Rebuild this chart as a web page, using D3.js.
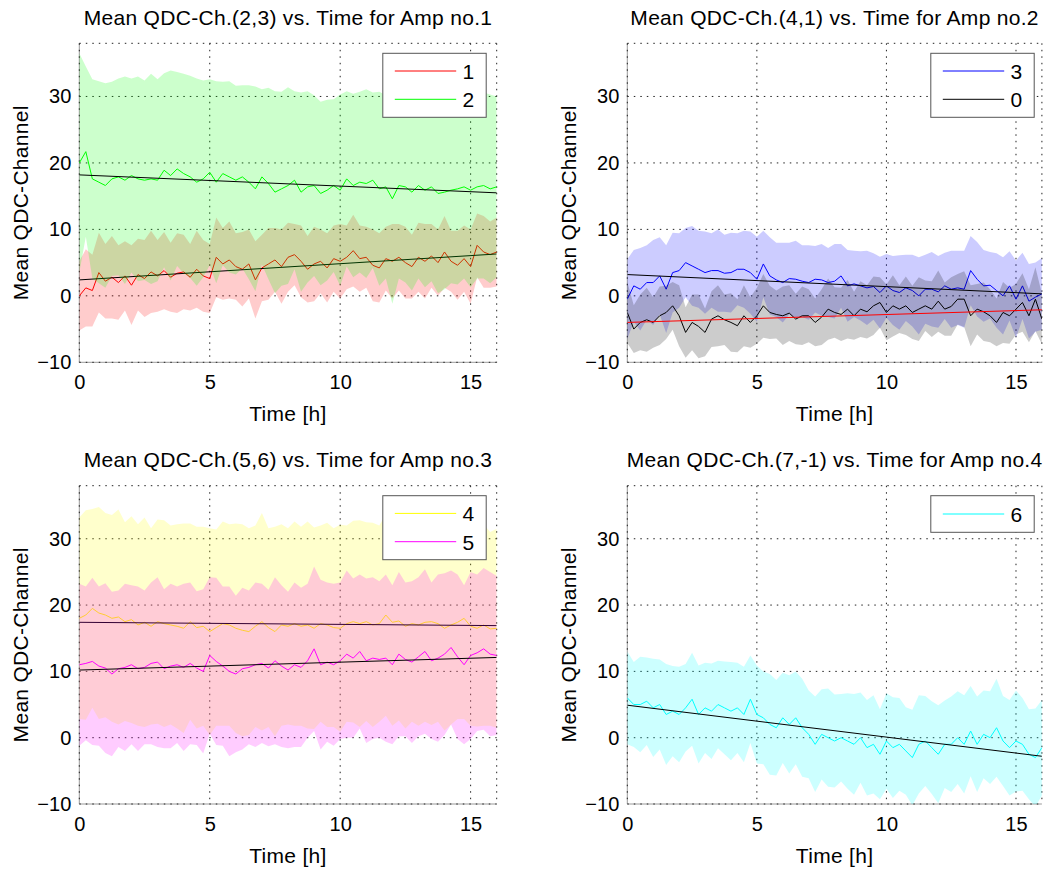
<!DOCTYPE html>
<html>
<head>
<meta charset="utf-8">
<script src="https://cdn.jsdelivr.net/npm/d3@7"></script>
<style>
body { margin: 0; background: #fff; }
svg text { font-family: "Liberation Sans", Helvetica, Arial, sans-serif; fill: #000; }
</style>
</head>
<body>
<script>
(function(){

//time bins are 0.25 h wide, first bin at t = 0
var timeStep = 0.25;

//axis ticks shared by all four panels
var xTicks = [0, 5, 10, 15];
var yTicks = [-10, 0, 10, 20, 30];
var xDomain = [0, 16],
    yDomain = [-10, 38];

//mean QDC channel per time bin (ch. 1 .. 6 and 0)
var meanCh1 = [0.0, 1.2, 0.8, 3.5, 2.2, 2.8, 2.0, 3.0, 1.6, 3.2, 2.6, 3.6, 3.0,
    3.8, 2.8, 3.4, 3.6, 2.8, 4.0, 3.0, 2.6, 5.8, 4.8, 5.4, 4.4, 4.0,
    4.8, 2.4, 4.2, 4.8, 5.4, 4.4, 5.8, 6.2, 5.2, 4.0, 4.8, 5.2, 4.2,
    5.6, 5.2, 5.8, 6.8, 5.6, 5.8, 4.6, 4.2, 5.6, 5.2, 5.8, 5.0, 4.4,
    5.8, 5.2, 6.0, 5.0, 6.6, 5.2, 4.6, 5.6, 4.4, 7.6, 6.6, 6.2, 6.6];
var sdCh1 = [5.2, 5.8, 5.4, 6.0, 5.6, 6.2, 5.6, 5.2, 6.0, 5.4, 5.8, 6.2, 5.4,
    5.8, 5.2, 6.0, 5.6, 5.0, 5.8, 5.4, 5.2, 6.0, 5.4, 5.8, 5.0, 5.6,
    5.2, 5.8, 5.0, 5.4, 4.8, 5.6, 5.2, 4.6, 5.4, 5.0, 5.6, 4.8, 5.2,
    5.0, 5.6, 4.8, 5.4, 5.0, 4.6, 5.4, 5.2, 4.8, 5.6, 5.0, 5.4, 4.8,
    5.2, 5.6, 4.8, 5.0, 5.4, 4.6, 5.2, 5.0, 5.6, 4.8, 5.4, 5.0, 5.2];

var meanCh2 = [20.0, 21.7, 17.6, 17.1, 16.6, 17.6, 17.9, 17.4, 18.1, 17.6, 17.4, 17.6, 17.4,
    18.9, 18.1, 19.1, 18.4, 17.9, 17.1, 17.6, 18.6, 17.1, 18.4, 17.9, 17.4, 17.9,
    17.1, 16.1, 17.9, 16.9, 15.6, 16.1, 16.6, 17.4, 15.6, 16.4, 16.6, 15.4, 15.9,
    16.6, 15.9, 17.6, 16.6, 17.1, 16.9, 17.4, 16.1, 16.4, 14.6, 16.6, 16.4, 15.6,
    16.6, 15.9, 16.4, 15.4, 15.6, 15.9, 16.1, 16.4, 15.9, 16.4, 16.6, 16.1, 16.4];
var sdCh2 = [16.5, 12.8, 15.0, 15.2, 15.4, 14.6, 14.8, 15.6, 14.6, 15.4, 15.0, 15.8, 15.2,
    14.6, 15.8, 14.6, 15.0, 15.2, 15.6, 14.8, 14.0, 15.2, 13.8, 14.4, 14.2, 13.8,
    14.6, 15.4, 13.2, 14.4, 15.2, 14.6, 14.8, 13.4, 15.0, 14.4, 13.6, 13.8, 13.6,
    13.0, 14.4, 13.2, 13.8, 13.6, 14.2, 13.2, 14.6, 13.8, 15.8, 14.0, 14.4, 14.8,
    14.0, 14.6, 14.2, 15.0, 14.6, 14.0, 14.4, 13.8, 14.6, 13.8, 14.0, 14.2, 13.6];

var meanCh3 = [-0.5, 1.5, 1.0, 2.0, 2.0, 3.0, 1.0, 3.5, 3.8, 5.0, 4.5, 4.0, 3.5,
    3.8, 3.8, 3.4, 3.5, 4.0, 4.0, 3.5, 2.5, 4.8, 3.0, 2.4, 2.0, 2.6,
    2.5, 2.2, 2.0, 2.5, 2.4, 2.0, 2.2, 3.0, 1.5, 1.8, 1.5, 1.2, 1.4,
    0.5, 1.5, 0.8, 0.5, 1.2, 0.8, 0.0, 1.0, 1.0, 0.6, 1.5, 1.0, 1.2,
    1.0, 3.8, 2.5, 1.5, 1.6, 0.8, 0.0, 1.5, -0.5, 1.5, -0.8, -0.2, 0.3];
var sdCh3 = [6.0, 5.4, 6.2, 5.6, 6.4, 5.8, 6.6, 6.0, 5.6, 5.2, 6.0, 5.8, 6.2,
    5.6, 6.2, 5.8, 6.0, 5.4, 5.8, 6.2, 6.4, 5.0, 5.8, 5.6, 6.0, 5.4,
    5.8, 5.4, 5.6, 5.0, 5.4, 5.2, 5.6, 4.8, 5.4, 5.0, 5.2, 5.6, 5.0,
    5.4, 4.8, 5.2, 5.6, 5.0, 5.4, 5.8, 5.2, 5.6, 5.4, 5.0, 5.8, 5.6,
    5.8, 5.2, 5.6, 5.4, 5.0, 5.6, 5.8, 5.2, 5.8, 5.0, 5.6, 5.2, 5.4];

var meanCh0 = [-2.5, -5.0, -4.0, -3.6, -4.0, -3.0, -2.5, -1.5, -3.0, -5.5, -4.0, -4.6, -5.5,
    -3.5, -3.0, -3.6, -4.0, -4.5, -3.0, -4.0, -3.0, -1.5, -2.5, -2.8, -3.0, -2.6,
    -3.5, -3.0, -3.0, -4.0, -3.2, -2.0, -2.5, -2.8, -2.0, -3.0, -2.0, -2.4, -1.5,
    -1.0, -2.5, -1.5, -2.0, -1.5, -2.5, -2.0, -1.5, -2.0, -0.8, -2.0, -1.6, -0.5,
    -0.5, -3.0, -2.0, -2.4, -3.0, -4.0, -2.5, -3.0, -2.0, -1.0, -3.0, -0.5, -3.5];
var sdCh0 = [4.6, 3.6, 4.2, 4.8, 3.8, 4.4, 4.0, 3.6, 4.6, 3.8, 4.2, 4.8, 3.6,
    4.2, 4.6, 3.8, 4.4, 4.0, 4.6, 3.8, 4.2, 4.8, 4.0, 3.6, 4.4, 4.2,
    3.8, 4.4, 4.0, 3.6, 4.2, 4.6, 3.8, 4.0, 4.4, 3.6, 4.2, 4.0, 4.4,
    3.8, 4.2, 4.6, 3.6, 4.4, 4.0, 4.8, 3.8, 4.2, 4.6, 4.0, 4.4, 3.8,
    4.2, 4.6, 3.8, 4.4, 4.0, 3.6, 4.6, 4.2, 3.8, 4.4, 4.0, 4.8, 3.8];

var meanCh4 = [18.0, 18.5, 19.5, 18.8, 18.5, 18.0, 18.2, 17.5, 17.8, 17.0, 17.4, 16.8, 17.5,
    17.2, 17.0, 16.8, 16.5, 17.5, 16.6, 16.8, 16.0, 16.6, 17.2, 17.0, 16.5, 16.2,
    16.0, 16.8, 17.5, 16.6, 16.0, 17.0, 16.8, 17.2, 16.8, 17.0, 16.5, 17.2, 17.0,
    16.6, 16.5, 17.2, 17.5, 17.2, 17.5, 17.0, 17.2, 18.5, 17.4, 17.6, 16.8, 17.2,
    17.0, 17.4, 17.5, 17.2, 16.5, 17.0, 17.4, 18.0, 16.8, 16.5, 17.0, 16.4, 16.5];
var sdCh4 = [15.2, 15.8, 15.0, 16.0, 15.4, 15.6, 16.2, 15.0, 15.6, 15.2, 15.8, 14.8, 15.4,
    15.6, 15.0, 15.4, 15.8, 14.8, 15.2, 15.0, 15.6, 14.8, 15.4, 15.2, 15.8, 16.0,
    15.6, 15.2, 16.4, 15.0, 15.8, 15.2, 14.8, 15.4, 15.0, 15.6, 15.2, 14.8, 15.4,
    15.0, 15.6, 14.8, 15.2, 15.6, 15.0, 15.4, 14.8, 15.2, 15.6, 15.0, 15.4, 14.8,
    15.2, 15.0, 15.6, 14.8, 15.4, 15.0, 14.6, 15.2, 15.0, 14.8, 15.2, 14.6, 15.0];

var meanCh5 = [11.0, 11.2, 11.5, 10.8, 10.5, 9.6, 10.4, 10.6, 11.0, 10.4, 10.6, 11.2, 11.4,
    10.4, 10.8, 11.0, 10.6, 11.2, 10.5, 10.0, 12.4, 11.5, 10.8, 10.0, 9.6, 10.4,
    10.6, 11.0, 11.2, 10.5, 11.6, 10.8, 10.2, 11.0, 10.6, 11.6, 13.4, 11.0, 11.4,
    11.0, 11.6, 12.6, 12.0, 13.0, 11.6, 12.0, 11.8, 12.0, 11.0, 12.6, 11.8, 11.4,
    12.2, 13.0, 11.6, 12.0, 12.6, 13.6, 12.2, 11.0, 12.4, 12.8, 13.4, 12.6, 12.4];
var sdCh5 = [12.2, 11.6, 12.6, 12.0, 12.8, 12.4, 11.8, 12.6, 12.0, 12.4, 11.6, 12.2, 12.8,
    12.0, 12.4, 11.8, 12.6, 12.2, 11.6, 12.4, 11.8, 12.6, 12.0, 12.8, 11.8, 12.2,
    11.6, 12.4, 12.0, 11.8, 12.6, 12.2, 11.8, 12.4, 12.0, 11.6, 12.4, 12.8, 12.0,
    12.2, 11.8, 12.6, 12.0, 11.6, 12.4, 12.2, 11.8, 12.6, 12.0, 12.4, 11.6, 12.2,
    12.0, 12.4, 11.8, 12.6, 12.2, 11.6, 12.4, 12.0, 12.6, 11.8, 12.2, 12.4, 12.0];

var meanCh6 = [6.0, 5.0, 5.0, 5.5, 4.5, 5.0, 3.5, 4.0, 3.5, 4.5, 5.8, 3.5, 4.5,
    4.0, 5.0, 4.5, 4.0, 4.5, 3.5, 5.8, 3.5, 3.0, 2.0, 1.5, 3.0, 2.0,
    3.0, 1.5, 0.5, -1.0, 0.5, 0.0, -0.5, 0.0, -0.5, -1.0, 0.0, -1.5, -1.0,
    -2.5, -0.5, -1.5, -1.0, -2.0, -3.0, -1.0, -0.5, -1.5, -2.5, -1.0, -1.0, 0.0,
    -1.0, 1.0, -1.0, 0.5, 0.0, 1.5, -0.5, -1.5, -0.5, -1.0, -2.5, -3.0, -1.5];
var sdCh6 = [7.0, 6.4, 7.2, 6.6, 7.4, 6.8, 7.6, 6.8, 7.2, 6.6, 7.0, 7.4, 6.8,
    7.2, 6.6, 7.0, 7.4, 6.8, 7.2, 6.6, 7.4, 7.0, 7.6, 7.2, 6.8, 7.4,
    7.0, 7.4, 6.6, 7.2, 6.8, 7.4, 7.0, 6.6, 7.2, 7.6, 6.8, 7.2, 7.4,
    6.8, 7.2, 7.6, 7.0, 6.6, 7.2, 7.4, 6.8, 7.0, 7.4, 6.6, 7.2, 7.0,
    7.4, 6.8, 7.2, 6.6, 7.0, 7.4, 6.8, 7.2, 7.6, 7.0, 6.8, 7.4, 7.2];

//linear fit per channel: value at t = 0 and at t = 16
var fitCh1 = [2.4, 6.3],
    fitCh2 = [18.2, 15.5],
    fitCh3 = [3.2, 0.3],
    fitCh0 = [-4.0, -2.1],
    fitCh4 = [17.4, 16.9],
    fitCh5 = [10.2, 12.1],
    fitCh6 = [4.9, -2.8];

//panel titles and the channels drawn in each
var titles = ["Mean QDC-Ch.(2,3) vs. Time for Amp no.1",
    "Mean QDC-Ch.(4,1) vs. Time for Amp no.2",
    "Mean QDC-Ch.(5,6) vs. Time for Amp no.3",
    "Mean QDC-Ch.(7,-1) vs. Time for Amp no.4"];

var panelSeries = [
    [{name: "1", color: "#ff0000", mean: meanCh1, sd: sdCh1, fit: fitCh1, fitColor: "#000"},
     {name: "2", color: "#00ff00", mean: meanCh2, sd: sdCh2, fit: fitCh2, fitColor: "#000"}],
    [{name: "3", color: "#0000ff", mean: meanCh3, sd: sdCh3, fit: fitCh3, fitColor: "#000"},
     {name: "0", color: "#000000", mean: meanCh0, sd: sdCh0, fit: fitCh0, fitColor: "#ff0000"}],
    [{name: "4", color: "#ffff00", mean: meanCh4, sd: sdCh4, fit: fitCh4, fitColor: "#000"},
     {name: "5", color: "#ff00ff", mean: meanCh5, sd: sdCh5, fit: fitCh5, fitColor: "#000"}],
    [{name: "6", color: "#00ffff", mean: meanCh6, sd: sdCh6, fit: fitCh6, fitColor: "#000"}]
];

//pixel frame of each axes box
var frames = [
    {left: 79.3, top: 43.3, width: 417.4, height: 319},
    {left: 627.3, top: 43.3, width: 414.6, height: 319},
    {left: 79.3, top: 485.7, width: 417.4, height: 318.3},
    {left: 627.3, top: 485.7, width: 414.6, height: 318.3}
];

var svg = d3.select("body")
    .append("svg")
    .attr("width", 1046)
    .attr("height", 873);

svg.append("rect")
    .attr("width", 1046)
    .attr("height", 873)
    .attr("fill", "#fff");

frames.forEach(function(frame, i){
    drawPanel(frame, titles[i], panelSeries[i], i);
});

function drawPanel(frame, title, series, idx){
    var x = d3.scaleLinear()
        .domain(xDomain)
        .range([frame.left, frame.left + frame.width]);
    var y = d3.scaleLinear()
        .domain(yDomain)
        .range([frame.top + frame.height, frame.top]);

    var g = svg.append("g").attr("class", "panel");

    //clip bands and lines to the axes box
    var clipId = "clip" + idx;
    svg.append("clipPath")
        .attr("id", clipId)
        .append("rect")
        .attr("x", frame.left)
        .attr("y", frame.top)
        .attr("width", frame.width)
        .attr("height", frame.height);

    //left and bottom axis lines
    g.append("line")
        .attr("x1", frame.left).attr("x2", frame.left)
        .attr("y1", frame.top).attr("y2", frame.top + frame.height)
        .attr("stroke", "#9a9a9a");
    g.append("line")
        .attr("x1", frame.left).attr("x2", frame.left + frame.width)
        .attr("y1", frame.top + frame.height).attr("y2", frame.top + frame.height)
        .attr("stroke", "#9a9a9a");

    //dotted grid, including the top and right edges of the box
    var gridX = xTicks.concat([xDomain[1]]),
        gridY = yTicks.concat([yDomain[1]]);
    g.selectAll(".gridX")
        .data(gridX)
        .enter()
        .append("line")
        .attr("class", "gridX")
        .attr("x1", function(d){ return x(d); })
        .attr("x2", function(d){ return x(d); })
        .attr("y1", frame.top)
        .attr("y2", frame.top + frame.height)
        .attr("stroke", "#222")
        .attr("stroke-dasharray", "1.5,5");
    g.selectAll(".gridY")
        .data(gridY)
        .enter()
        .append("line")
        .attr("class", "gridY")
        .attr("x1", frame.left)
        .attr("x2", frame.left + frame.width)
        .attr("y1", function(d){ return y(d); })
        .attr("y2", function(d){ return y(d); })
        .attr("stroke", "#222")
        .attr("stroke-dasharray", "1.5,5");

    var plot = g.append("g").attr("clip-path", "url(#" + clipId + ")");

    var band = d3.area()
        .x(function(d, i){ return x(i * timeStep); })
        .y0(function(d, i){ return y(d.m - d.s); })
        .y1(function(d, i){ return y(d.m + d.s); });
    var meanLine = d3.line()
        .x(function(d, i){ return x(i * timeStep); })
        .y(function(d){ return y(d.m); });

    //each channel: shaded std band, mean trace, then linear fit
    series.forEach(function(s){
        var pts = s.mean.map(function(m, i){ return {m: m, s: s.sd[i]}; });

        plot.append("path")
            .datum(pts)
            .attr("d", band)
            .attr("fill", s.color)
            .attr("fill-opacity", 0.2)
            .attr("stroke", "none");

        plot.append("path")
            .datum(pts)
            .attr("d", meanLine)
            .attr("fill", "none")
            .attr("stroke", s.color)
            .attr("stroke-width", 1);

        plot.append("line")
            .attr("x1", x(xDomain[0]))
            .attr("x2", x(xDomain[1]))
            .attr("y1", y(s.fit[0]))
            .attr("y2", y(s.fit[1]))
            .attr("stroke", s.fitColor)
            .attr("stroke-width", 1);
    });

    //tick labels
    var xAxis = g.append("g")
        .attr("transform", "translate(0," + (frame.top + frame.height) + ")")
        .call(d3.axisBottom(x).tickValues(xTicks).tickSize(0).tickPadding(13));
    var yAxis = g.append("g")
        .attr("transform", "translate(" + frame.left + ",0)")
        .call(d3.axisLeft(y).tickValues(yTicks).tickSize(0).tickPadding(8));
    [xAxis, yAxis].forEach(function(ax){
        ax.select(".domain").remove();
        ax.selectAll("text")
            .attr("font-size", 20)
            .attr("font-family", null);
    });

    //title and axis labels
    g.append("text")
        .attr("x", frame.left + frame.width / 2)
        .attr("y", frame.top - 18.5)
        .attr("text-anchor", "middle")
        .attr("font-size", 21)
        .attr("letter-spacing", 0.3)
        .text(title);
    g.append("text")
        .attr("x", frame.left + frame.width / 2)
        .attr("y", frame.top + frame.height + 58.5)
        .attr("text-anchor", "middle")
        .attr("font-size", 21)
        .attr("letter-spacing", 0.3)
        .text("Time [h]");
    g.append("text")
        .attr("transform", "translate(" + (frame.left - 51) + "," + (frame.top + frame.height / 2) + ") rotate(-90)")
        .attr("text-anchor", "middle")
        .attr("font-size", 21)
        .attr("letter-spacing", 0.3)
        .text("Mean QDC-Channel");

    //legend box
    var rowH = 28.3,
        boxW = 103.4,
        boxH = series.length == 1 ? 36.6 : 64,
        bx = frame.left + 303.5,
        by = frame.top + 10;
    var legend = g.append("g").attr("class", "legend");
    legend.append("rect")
        .attr("x", bx)
        .attr("y", by)
        .attr("width", boxW)
        .attr("height", boxH)
        .attr("fill", "#fff")
        .attr("stroke", "#555");
    var rows = legend.selectAll(".row")
        .data(series)
        .enter()
        .append("g")
        .attr("class", "row")
        .attr("transform", function(d, i){
            var cy = series.length == 1 ? boxH / 2 : 17.7 + i * rowH;
            return "translate(" + bx + "," + (by + cy) + ")";
        });
    rows.append("line")
        .attr("x1", 12)
        .attr("x2", 73.4)
        .attr("stroke", function(d){ return d.color; })
        .attr("stroke-width", 1);
    rows.append("text")
        .attr("x", boxW - 12)
        .attr("y", 8)
        .attr("text-anchor", "end")
        .attr("font-size", 21)
        .text(function(d){ return d.name; });
}

})();
</script>
</body>
</html>
